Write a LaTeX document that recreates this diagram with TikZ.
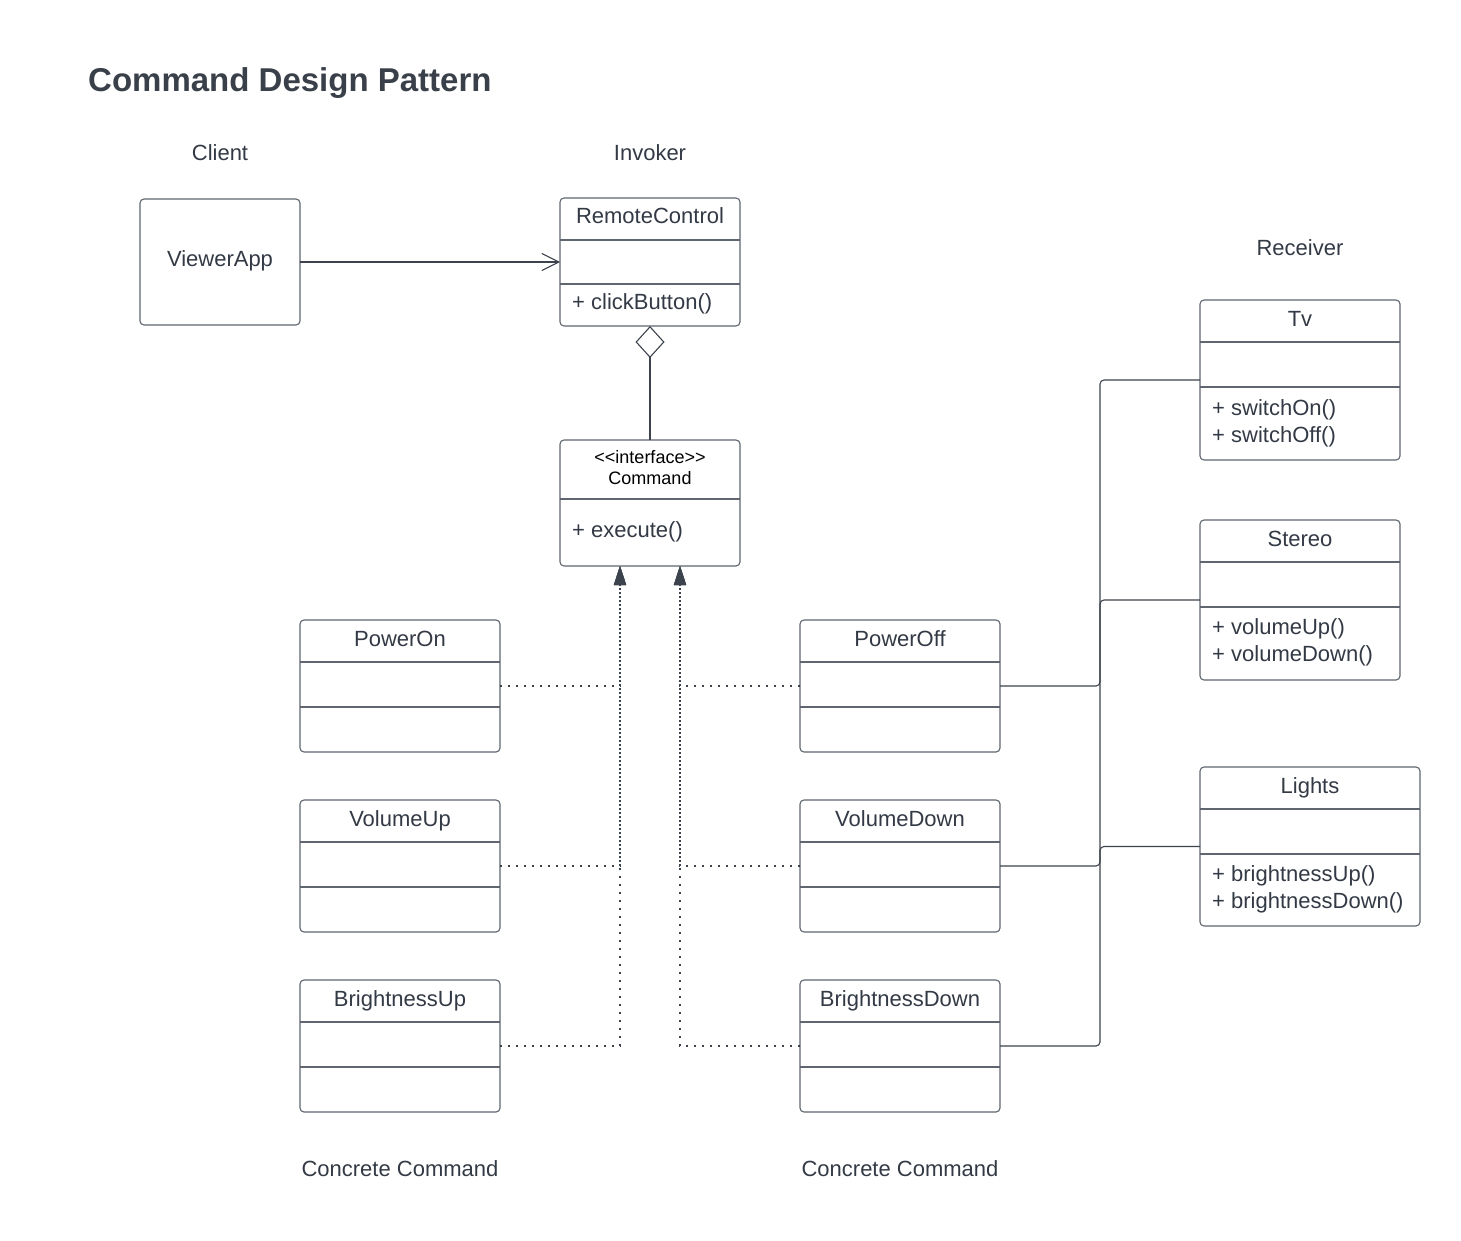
\documentclass[tikz,border=0pt]{standalone}
\usepackage{fontspec}
\setmainfont{Liberation Sans}
\usetikzlibrary{positioning, arrows.meta}
\definecolor{ink}{HTML}{333A45}
\definecolor{boxgray}{HTML}{5F6670}
\definecolor{wire}{HTML}{3D434C}
\definecolor{titleink}{HTML}{3A4049}

\begin{document}
\begin{tikzpicture}[x=1pt, y=-1pt, node distance=48pt,
  umlclass/.style={draw=boxgray, line width=1.1pt, rounded corners=4pt, fill=white, text=ink, inner sep=0pt, outer sep=0pt, font=\fontsize{22}{27}\selectfont, text height=26pt, minimum width=200pt},
  bars/.style={path picture={\foreach \d in {#1} \draw[boxgray, line width=1.1pt] ([yshift=-\d]path picture bounding box.north west) -- ([yshift=-\d]path picture bounding box.north east);}},
  cmdclass/.style={umlclass, text depth=106pt, bars={42pt,87pt}},
  recvclass/.style={umlclass, text depth=134pt, bars={42pt,87pt}},
  ops/.style={text=ink, inner sep=0pt, font=\fontsize{22}{27}\selectfont, align=left, anchor=north west},
  tag/.style={text=black, inner sep=0pt, font=\fontsize{18}{21}\selectfont, anchor=base},
  caption/.style={text=ink, inner sep=0pt, font=\fontsize{22}{27}\selectfont, anchor=base},
  realize/.style={wire, line width=1.6pt, dash pattern=on 1.6pt off 6.4pt, -{Triangle[width=12pt,length=19pt]}},
  assoc/.style={wire, line width=1.1pt, rounded corners=4pt}
]
\useasboundingbox (0,0) rectangle (1461,1241);
\node[font=\fontsize{33}{40}\selectfont\bfseries, text=titleink, anchor=base west, inner sep=0pt] (title) at (88,92) {Command Design Pattern};
\node[caption] (client) at (220,161) {Client};
\node[caption] (invoker) at (650,161) {Invoker};
\node[caption] (receiver) at (1300,256) {Receiver};
% invoker and the command interface
\node[umlclass, anchor=north, minimum width=180pt, text depth=102pt, bars={42pt,86pt}] (rc) at (650,198) {RemoteControl};
\node[ops, anchor=base west] (rcops) at ([xshift=12pt, yshift=-111pt]rc.north west) {+ clickButton()};
\node[umlclass, minimum width=160pt, text height=68pt, text depth=58pt] (viewer) [left=260pt of rc] {ViewerApp};
\node[umlclass, minimum width=180pt, text=black, font=\fontsize{18}{21}\selectfont, text height=44pt, text depth=82pt, bars={59pt}] (cmd) [below=114pt of rc] {Command};
\node[tag] (cmdtag) at ([yshift=-23pt]cmd.north) {<\kern0pt<interface>\kern0pt>};
\node[ops, anchor=base west] (cmdops) at ([xshift=12pt, yshift=-97pt]cmd.north west) {+ execute()};
% concrete commands
\node[cmdclass, anchor=north west] (pon) at (300,620) {PowerOn};
\node[cmdclass] (vup) [below=of pon] {VolumeUp};
\node[cmdclass] (bup) [below=of vup] {BrightnessUp};
\node[cmdclass] (poff) [right=300pt of pon] {PowerOff};
\node[cmdclass] (vdown) [below=of poff] {VolumeDown};
\node[cmdclass] (bdown) [below=of vdown] {BrightnessDown};
\node[caption] (ccleft) at (400,1176) {Concrete Command};
\node[caption] (ccright) at (900,1176) {Concrete Command};
% receivers
\node[recvclass, anchor=north west] (tv) at (1200,300) {Tv};
\node[ops] (tvops) at ([xshift=12pt, yshift=-99pt]tv.north west) {+ switchOn()\\+ switchOff()};
\node[recvclass] (stereo) [below=60pt of tv] {Stereo};
\node[ops] (stereoops) at ([xshift=12pt, yshift=-98pt]stereo.north west) {+ volumeUp()\\+ volumeDown()};
\node[recvclass, minimum width=220pt, text depth=133pt] (lights) [below right=87pt and 0pt of stereo.south west] {Lights};
\node[ops] (lightsops) at ([xshift=12pt, yshift=-98pt]lights.north west) {+ brightnessUp()\\+ brightnessDown()};
% connectors
\draw[wire, line width=1.1pt, -{Straight Barb[length=17pt, width=17pt]}] (viewer) -- (rc);
\draw[wire, line width=1.1pt, {Diamond[open, length=32pt, width=29pt]}-] (rc) -- (cmd);
\draw[realize] (pon.east) -| ([xshift=-30pt]cmd.south);
\draw[realize] (vup.east) -| ([xshift=-30pt]cmd.south);
\draw[realize] (bup.east) -| ([xshift=-30pt]cmd.south);
\draw[realize] (poff.west) -| ([xshift=30pt]cmd.south);
\draw[realize] (vdown.west) -| ([xshift=30pt]cmd.south);
\draw[realize] (bdown.west) -| ([xshift=30pt]cmd.south);
\draw[assoc] (poff.east) -- ++(100pt,0pt) |- (tv.west);
\draw[assoc] (vdown.east) -- ++(100pt,0pt) |- (stereo.west);
\draw[assoc] (bdown.east) -- ++(100pt,0pt) |- (lights.west);
\end{tikzpicture}
\end{document}
